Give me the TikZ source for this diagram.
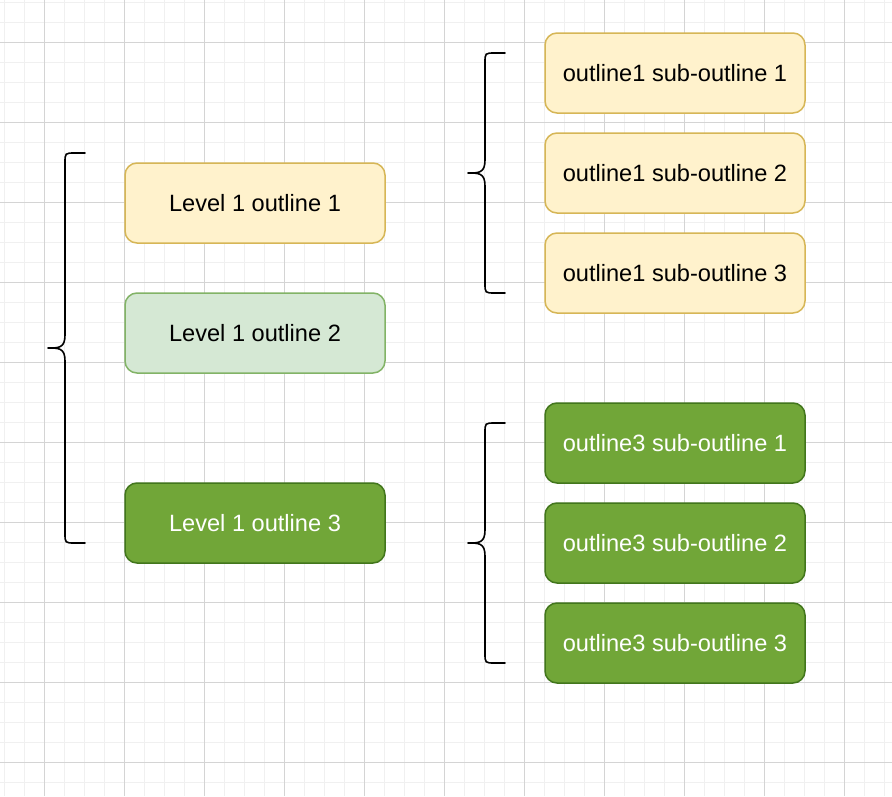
\documentclass[tikz,border=0pt]{standalone}
\usepackage{fontspec}
\setmainfont{Liberation Sans}
\definecolor{gridminor}{RGB}{240,240,240}
\definecolor{gridmajor}{RGB}{212,212,212}
\definecolor{yfill}{RGB}{255,242,204}
\definecolor{ydraw}{RGB}{214,182,86}
\definecolor{lgfill}{RGB}{213,232,212}
\definecolor{lgdraw}{RGB}{130,179,102}
\definecolor{dgfill}{RGB}{113,166,56}
\definecolor{dgdraw}{RGB}{66,118,28}
\tikzset{
  box/.style={rounded corners=12pt, minimum width=260pt, minimum height=80pt, inner sep=0pt, line width=1.5pt, font=\fontsize{23.6}{28}\selectfont},
  ybox/.style={box, fill=yfill, draw=ydraw, text=black},
  lgbox/.style={box, fill=lgfill, draw=lgdraw, text=black},
  dgbox/.style={box, fill=dgfill, draw=dgdraw, text=white},
  brace/.style={draw=black, line width=1.6pt, line cap=round, line join=round}
}
\begin{document}
\begin{tikzpicture}[x=1pt,y=-1pt]
\useasboundingbox (0,0) rectangle (892,796);
\fill[white] (0,0) rectangle (892,796);
% grid
\foreach \x in {4,24,...,884} \draw[gridminor, line width=1pt] (\x,0) -- (\x,796);
\foreach \y in {2,22,...,792} \draw[gridminor, line width=1pt] (0,\y) -- (892,\y);
\foreach \x in {44,124,...,884} \draw[gridmajor, line width=1pt] (\x,0) -- (\x,796);
\foreach \y in {42,122,...,792} \draw[gridmajor, line width=1pt] (0,\y) -- (892,\y);
% level 1 boxes
\node[ybox]  (l1) at (255,203) {Level 1 outline 1};
\node[lgbox] (l2) at (255,333) {Level 1 outline 2};
\node[dgbox] (l3) at (255,523) {Level 1 outline 3};
% sub boxes
\node[ybox] (s11) at (675,73)  {outline1 sub-outline 1};
\node[ybox] (s12) at (675,173) {outline1 sub-outline 2};
\node[ybox] (s13) at (675,273) {outline1 sub-outline 3};
\node[dgbox] (s31) at (675,443) {outline3 sub-outline 1};
\node[dgbox] (s32) at (675,543) {outline3 sub-outline 2};
\node[dgbox] (s33) at (675,643) {outline3 sub-outline 3};
% braces
\draw[brace] (85,153) -- (75,153) .. controls (65,153) .. (65,163) -- (65,335)
  .. controls (65,348) and (59,348) .. (48,348)
  .. controls (59,348) and (65,348) .. (65,361) -- (65,533)
  .. controls (65,543) .. (75,543) -- (85,543);
\draw[brace] (505,53) -- (495,53) .. controls (485,53) .. (485,63) -- (485,160)
  .. controls (485,173) and (479,173) .. (468,173)
  .. controls (479,173) and (485,173) .. (485,186) -- (485,283)
  .. controls (485,293) .. (495,293) -- (505,293);
\draw[brace] (505,423) -- (495,423) .. controls (485,423) .. (485,433) -- (485,530)
  .. controls (485,543) and (479,543) .. (468,543)
  .. controls (479,543) and (485,543) .. (485,556) -- (485,653)
  .. controls (485,663) .. (495,663) -- (505,663);
\end{tikzpicture}
\end{document}
